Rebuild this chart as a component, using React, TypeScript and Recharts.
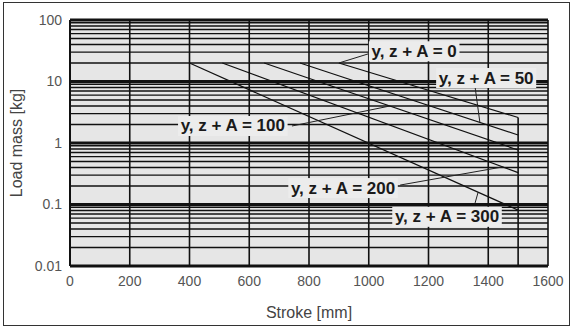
import React from 'react';
import { LineChart, Line, XAxis, YAxis, ReferenceLine, ReferenceArea, ReferenceDot, Label } from 'recharts';

const X_TICKS = [0, 200, 400, 600, 800, 1000, 1200, 1400, 1600];
const Y_TICKS = [0.01, 0.1, 1, 10, 100];
const V_GRID = [200, 400, 600, 800, 1000, 1200, 1400, 1600];
const DECADES = [0.01, 0.1, 1, 10];
const MINOR_STEPS = [2, 3, 4, 5, 6, 7, 8, 9];

// y, z + A values, one line each
const SERIES = ['0', '50', '100', '200', '300'];
const START_STROKE = [900, 770, 650, 510, 400];
const START_LOAD = 20;
const MAX_STROKE = 1500;
const END_LOAD = [2.6, 1.35, 0.77, 0.33, 0.081];

// label anchors and leader lines (stroke mm, load kg)
const LABEL_STROKE = [1152, 1393, 545, 914, 1262];
const LABEL_LOAD = [31, 11.4, 1.89, 0.185, 0.063];
const LEADER_FROM = [[1007, 29], [1356, 8.1], [743, 1.89], [1105, 0.207], [1356, 0.106]];
const LEADER_TO = [[900, 20], [1372, 2.16], [1071, 4.0], [1450, 0.41], [1366, 0.158]];

const FONT = '"Liberation Sans", Arial, sans-serif';

const minorLines = DECADES.flatMap(d => MINOR_STEPS.map(k => +(k * d).toPrecision(3)));

const seriesData = SERIES.map((_, i) => [
  { x: START_STROKE[i], y: START_LOAD },
  { x: MAX_STROKE, y: END_LOAD[i] },
]);

let ctx: CanvasRenderingContext2D | null = null;
const textWidth = (t: string) => {
  if (!ctx) ctx = document.createElement('canvas').getContext('2d');
  if (!ctx) return t.length * 8;
  ctx.font = `bold 17px ${FONT}`;
  return ctx.measureText(t).width;
};

const Tag = ({ cx, cy, text }: any) => {
  const w = textWidth(text) + 4;
  return (
    <g>
      <rect x={cx - w / 2} y={cy - 10} width={w} height={20} fill="#ececec" />
      <text x={cx} y={cy} textAnchor="middle" dominantBaseline="central"
        fontFamily={FONT} fontWeight="bold" fontSize={17} fill="#1a1a1a">{text}</text>
    </g>
  );
};

const App: React.FC = () => {
  return (
    <div style={{ position: 'absolute', left: 0, top: 0, width: 573, height: 329, background: '#fff' }}>
      <div style={{ position: 'absolute', left: 3, top: 2, width: 565, height: 322, border: '1.5px solid #333' }} />
      <LineChart width={573} height={329} margin={{ top: 20, right: 25, bottom: 33, left: 10 }}
        style={{ position: 'absolute', left: 0, top: 0 }}>
        <XAxis type="number" dataKey="x" domain={[0, 1600]} ticks={X_TICKS} allowDataOverflow
          tickLine={false} axisLine={{ stroke: '#111', strokeWidth: 2 }} tickSize={8}
          tick={{ fill: '#555', fontSize: 14, fontFamily: FONT }} height={30}>
          <Label value="Stroke [mm]" position="insideBottom" offset={-22}
            style={{ fill: '#444', fontSize: 16, fontFamily: FONT }} />
        </XAxis>
        <YAxis type="number" dataKey="y" scale="log" domain={[0.01, 100]} ticks={Y_TICKS} allowDataOverflow
          tickLine={false} axisLine={{ stroke: '#111', strokeWidth: 2 }} width={60}
          tick={{ fill: '#555', fontSize: 14, fontFamily: FONT }}
          tickFormatter={(v: number) => String(v)}>
          <Label value="Load mass [kg]" angle={-90} position="insideLeft" offset={6}
            style={{ fill: '#444', fontSize: 16, fontFamily: FONT, textAnchor: 'middle' }} />
        </YAxis>

        <ReferenceArea x1={0} x2={1600} y1={0.01} y2={100} fill="#e6e6e6" fillOpacity={1} stroke="none" />
        {minorLines.map(v => (
          <ReferenceLine key={`m${v}`} y={v} stroke="#111" strokeWidth={1.4} />
        ))}
        {Y_TICKS.map(v => (
          <ReferenceLine key={`d${v}`} y={v} stroke="#111" strokeWidth={3} />
        ))}
        {V_GRID.map(v => (
          <ReferenceLine key={`v${v}`} x={v} stroke="#111" strokeWidth={1.6} />
        ))}

        {seriesData.map((d, i) => (
          <Line key={SERIES[i]} data={d} dataKey="y" stroke="#111" strokeWidth={1.2}
            dot={false} isAnimationActive={false} />
        ))}
        <ReferenceLine segment={[{ x: MAX_STROKE, y: 0.01 }, { x: MAX_STROKE, y: END_LOAD[0] }]}
          stroke="#111" strokeWidth={1.6} />

        {LEADER_FROM.map((f, i) => (
          <ReferenceLine key={`l${i}`} segment={[{ x: f[0], y: f[1] }, { x: LEADER_TO[i][0], y: LEADER_TO[i][1] }]}
            stroke="#222" strokeWidth={1} />
        ))}
        {SERIES.map((s, i) => (
          <ReferenceDot key={`t${s}`} x={LABEL_STROKE[i]} y={LABEL_LOAD[i]} r={0}
            shape={(p: any) => <Tag cx={p.cx} cy={p.cy} text={`y, z + A = ${s}`} />} />
        ))}
      </LineChart>
    </div>
  );
};

export default App;
